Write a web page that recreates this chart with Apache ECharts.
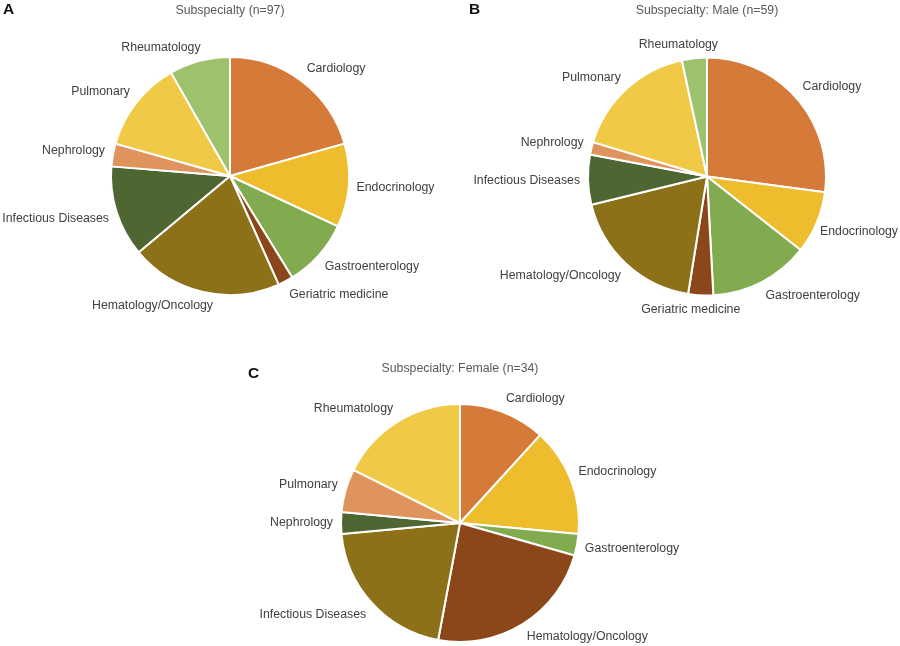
<!DOCTYPE html>
<html>
<head>
<meta charset="utf-8">
<script src="https://cdn.jsdelivr.net/npm/echarts@6/dist/echarts.min.js"></script>
<style>
  html, body { margin: 0; padding: 0; background: #fff; }
  #chart { width: 900px; height: 646px; }
</style>
</head>
<body>
<div id="chart"></div>
<script>
// categories
const catsAll = ['Cardiology', 'Endocrinology', 'Gastroenterology', 'Geriatric medicine',
  'Hematology/Oncology', 'Infectious Diseases', 'Nephrology', 'Pulmonary', 'Rheumatology']
const catsFemale = ['Cardiology', 'Endocrinology', 'Gastroenterology', 'Hematology/Oncology',
  'Infectious Diseases', 'Nephrology', 'Pulmonary', 'Rheumatology']

// counts
const valuesAll = [20, 11, 9, 2, 20, 12, 3, 12, 8]      // n=97
const valuesMale = [16, 5, 8, 2, 11, 4, 1, 10, 2]       // n=59
const valuesFemale = [4, 5, 1, 8, 7, 1, 2, 6]           // n=34

const titles = ['Subspecialty (n=97)', 'Subspecialty: Male (n=59)', 'Subspecialty: Female (n=34)']

// palette goes by slice order, not by name
const palette = ['#D57A38', '#EDBD2D', '#82AB50', '#8B4719', '#8C7119',
  '#4E6732', '#DF935D', '#F0CA47', '#9DC16C']

const R = 119
const GAP = 8
const W = 900
const font = 'Liberation Sans, Arial, sans-serif'

function pieData (cats, vals) {
  return cats.map((name, i) => ({
    name: name,
    value: vals[i],
    itemStyle: { color: palette[i] }
  }))
}

// excel-like placement: box slides round the point just outside the rim
function excelLabels (vals, center) {
  const total = vals.reduce((a, b) => a + b, 0)
  return function (params) {
    let before = 0
    for (let i = 0; i < params.dataIndex; i++) before += vals[i]
    const mid = (before + vals[params.dataIndex] / 2) / total * Math.PI * 2
    const dx = Math.sin(mid)
    const dy = -Math.cos(mid)
    const px = center[0] + (R + GAP) * dx
    const py = center[1] + (R + GAP) * dy
    const w = params.labelRect.width
    const h = params.labelRect.height
    const ax = Math.min(1, Math.max(0, 0.5 - 1.8 * dx))
    const ay = Math.min(1, Math.max(0, 0.5 - 1.2 * dy))
    let x = px - ax * w
    if (x + w > W - 2) x = W - 2 - w // keep inside the canvas
    if (x < 1) x = 1
    return {
      x: x,
      y: py - ay * h,
      align: 'left',
      verticalAlign: 'top'
    }
  }
}

function pieSeries (cats, vals, center) {
  return {
    type: 'pie',
    center: center,
    radius: R,
    startAngle: 90,
    clockwise: true,
    silent: true,
    animation: false,
    avoidLabelOverlap: false,
    itemStyle: { borderColor: '#fff', borderWidth: 2 },
    label: {
      show: true,
      position: 'outside',
      overflow: 'none',
      color: '#404040',
      fontFamily: font,
      fontSize: 12.3
    },
    labelLine: { show: false, length: 8, length2: 0 },
    labelLayout: excelLabels(vals, center),
    data: pieData(cats, vals)
  }
}

const titleStyle = {
  color: '#595959',
  fontFamily: font,
  fontSize: 12.3,
  fontWeight: 'normal'
}
const letterStyle = {
  color: '#111',
  fontFamily: font,
  fontSize: 15.5,
  fontWeight: 'bold'
}

const chart = echarts.init(document.getElementById('chart'))
chart.setOption({
  backgroundColor: '#fff',
  title: [
    { text: titles[0], left: 230, top: 5, padding: 0, textAlign: 'center', textStyle: titleStyle },
    { text: titles[1], left: 707, top: 5, padding: 0, textAlign: 'center', textStyle: titleStyle },
    { text: titles[2], left: 460, top: 363, padding: 0, textAlign: 'center', textStyle: titleStyle },
    { text: 'A', left: 3, top: 2, padding: 0, textStyle: letterStyle },
    { text: 'B', left: 469, top: 2, padding: 0, textStyle: letterStyle },
    { text: 'C', left: 248, top: 366, padding: 0, textStyle: letterStyle }
  ],
  series: [
    pieSeries(catsAll, valuesAll, [230, 176]),
    pieSeries(catsAll, valuesMale, [707, 176.5]),
    pieSeries(catsFemale, valuesFemale, [460, 523])
  ]
})
</script>
</body>
</html>
